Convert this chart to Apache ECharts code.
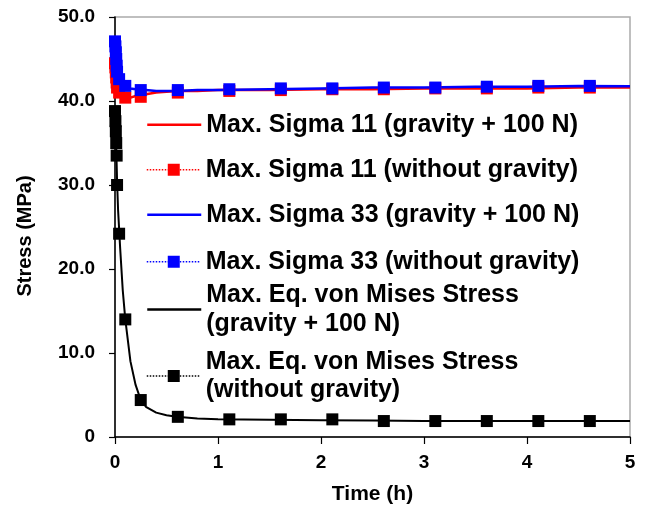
<!DOCTYPE html>
<html>
<head>
<meta charset="utf-8">
<title>Stress vs time</title>
<script src="https://cdn.jsdelivr.net/npm/echarts@6/dist/echarts.min.js"></script>
<style>
  html, body { margin: 0; padding: 0; background: #fff; }
  #chart { width: 649px; height: 505px; }
</style>
</head>
<body>
<div id="chart"></div>
<script>
// Sampling times (h) of the runs without gravity (plotted with markers)
const timeMarked = [0, 0.004, 0.008, 0.012, 0.016, 0.02, 0.04, 0.1, 0.25, 0.61, 1.11, 1.61, 2.11, 2.61, 3.11, 3.61, 4.11, 4.61];
// Sampling times (h) of the runs with gravity + 100 N (continuous curves)
const timeLine = [0, 0.01, 0.02, 0.03, 0.05, 0.075, 0.1, 0.15, 0.2, 0.25, 0.3, 0.4, 0.5, 0.6, 0.8, 1.0, 1.5, 2.0, 2.5, 3.0, 3.5, 4.0, 4.5, 5.0];

// Stress values (MPa)
const sigma11Gravity = [44.6, 43.5, 42.5, 41.8, 41.0, 40.5, 40.3, 40.4, 40.6, 40.7, 40.8, 41.0, 41.1, 41.2, 41.2, 41.3, 41.3, 41.4, 41.4, 41.5, 41.5, 41.5, 41.6, 41.6];
const sigma11NoGravity = [44.5, 44.0, 43.4, 42.8, 42.2, 41.6, 41.0, 40.4, 40.5, 41.0, 41.2, 41.3, 41.4, 41.4, 41.5, 41.5, 41.6, 41.6];
const sigma33Gravity = [47.0, 45.5, 44.3, 43.4, 42.4, 42.0, 41.8, 41.5, 41.4, 41.3, 41.3, 41.2, 41.2, 41.2, 41.3, 41.3, 41.4, 41.5, 41.6, 41.6, 41.7, 41.7, 41.8, 41.75];
const sigma33NoGravity = [47.1, 46.5, 45.8, 45.0, 44.2, 43.5, 42.6, 41.8, 41.3, 41.3, 41.4, 41.5, 41.5, 41.6, 41.6, 41.7, 41.8, 41.8];
const misesGravity = [38.5, 35.5, 30.5, 27.0, 22.5, 17.5, 14.0, 9.0, 6.2, 4.4, 3.6, 2.9, 2.6, 2.4, 2.2, 2.1, 2.05, 2.0, 1.95, 1.9, 1.9, 1.9, 1.9, 1.9];
const misesNoGravity = [38.8, 37.6, 36.4, 35.0, 33.5, 30.0, 24.2, 14.0, 4.4, 2.4, 2.1, 2.1, 2.1, 1.9, 1.9, 1.9, 1.9, 1.9];

// Series names (legend text)
const names = [
  'Max. Sigma 11 (gravity + 100 N)',
  'Max. Sigma 11 (without gravity)',
  'Max. Sigma 33 (gravity + 100 N)',
  'Max. Sigma 33 (without gravity)',
  'Max. Eq. von Mises Stress\n(gravity + 100 N)',
  'Max. Eq. von Mises Stress\n(without gravity)'
];

const FONT = "'Liberation Sans', Arial, sans-serif";
const RED = '#ff0000', BLUE = '#0000ff', BLACK = '#000000';
const colors = [RED, RED, BLUE, BLUE, BLACK, BLACK];
const withMarker = [false, true, false, true, false, true];

const pair = (ts, vs) => ts.map((t, i) => [t, vs[i]]);

function solidSeries(name, color, values, width) {
  return {
    name, type: 'line', data: pair(timeLine, values),
    symbol: 'none', showSymbol: false,
    lineStyle: { color, width, type: 'solid' },
    itemStyle: { color },
    emphasis: { disabled: true }
  };
}
// Marker-only runs: the connecting dotted line appears in the legend key only
function markedSeries(name, color, values) {
  return {
    name, type: 'line', data: pair(timeMarked, values),
    symbol: 'rect', symbolSize: 12, showAllSymbol: true,
    lineStyle: { color, width: 1.5, type: 'dotted', opacity: 0 },
    itemStyle: { color },
    emphasis: { disabled: true }
  };
}

// One legend block per entry, each stacked at its own height
const legendTops = [110.5, 155.5, 200.5, 247.5, 281, 347.5];
const legends = names.map((n, i) => ({
  data: [withMarker[i]
    ? { name: n, lineStyle: { color: colors[i], width: 1.5, type: 'dotted', opacity: 1 } }
    : { name: n, itemStyle: { opacity: 0 }, lineStyle: { color: colors[i], width: 2.5, type: 'solid', opacity: 1 } }],
  orient: 'vertical',
  left: 146,
  top: legendTops[i],
  padding: 0,
  itemWidth: 54,
  itemHeight: 15,
  itemGap: 0,
  selectedMode: false,
  inactiveColor: '#000',
  textStyle: {
    fontFamily: FONT, fontWeight: 'bold', fontSize: 25,
    color: '#000', lineHeight: 28.5
  }
}));

const chart = echarts.init(document.getElementById('chart'), null, { renderer: 'canvas' });
chart.setOption({
  animation: false,
  backgroundColor: '#ffffff',
  legend: legends,
  grid: {
    left: 115, right: 19, top: 17, bottom: 68,
    show: true, borderColor: '#aaaaaa', borderWidth: 1.5,
    containLabel: false,
    outerBoundsMode: 'none'
  },
  xAxis: {
    type: 'value', min: 0, max: 5, interval: 1,
    name: 'Time (h)', nameLocation: 'middle', nameGap: 47,
    nameTextStyle: { fontFamily: FONT, fontWeight: 'bold', fontSize: 21, color: '#000' },
    axisLine: { show: true, onZero: false, lineStyle: { color: '#000', width: 1.5 } },
    axisTick: { show: true, inside: false, length: 7, lineStyle: { color: '#000', width: 1.2 } },
    axisLabel: { margin: 16, fontFamily: FONT, fontWeight: 'bold', fontSize: 19, color: '#000' },
    splitLine: { show: false }
  },
  yAxis: {
    type: 'value', min: 0, max: 50, interval: 10,
    name: 'Stress (MPa)', nameLocation: 'middle', nameGap: 80, nameRotate: 90,
    nameTextStyle: { fontFamily: FONT, fontWeight: 'bold', fontSize: 20, color: '#000', padding: [0, 18, 0, 0] },
    axisLine: { show: true, onZero: false, lineStyle: { color: '#000', width: 1.5 } },
    axisTick: { show: true, inside: false, length: 6, lineStyle: { color: '#000', width: 1.2 } },
    axisLabel: {
      margin: 20, fontFamily: FONT, fontWeight: 'bold', fontSize: 19, color: '#000',
      formatter: v => (v === 0 ? '0' : v.toFixed(1))
    },
    splitLine: { show: false }
  },
  series: [
    solidSeries(names[0], RED, sigma11Gravity, 2.5),
    markedSeries(names[1], RED, sigma11NoGravity),
    solidSeries(names[2], BLUE, sigma33Gravity, 2.5),
    markedSeries(names[3], BLUE, sigma33NoGravity),
    solidSeries(names[4], BLACK, misesGravity, 2),
    markedSeries(names[5], BLACK, misesNoGravity)
  ]
});
</script>
</body>
</html>
